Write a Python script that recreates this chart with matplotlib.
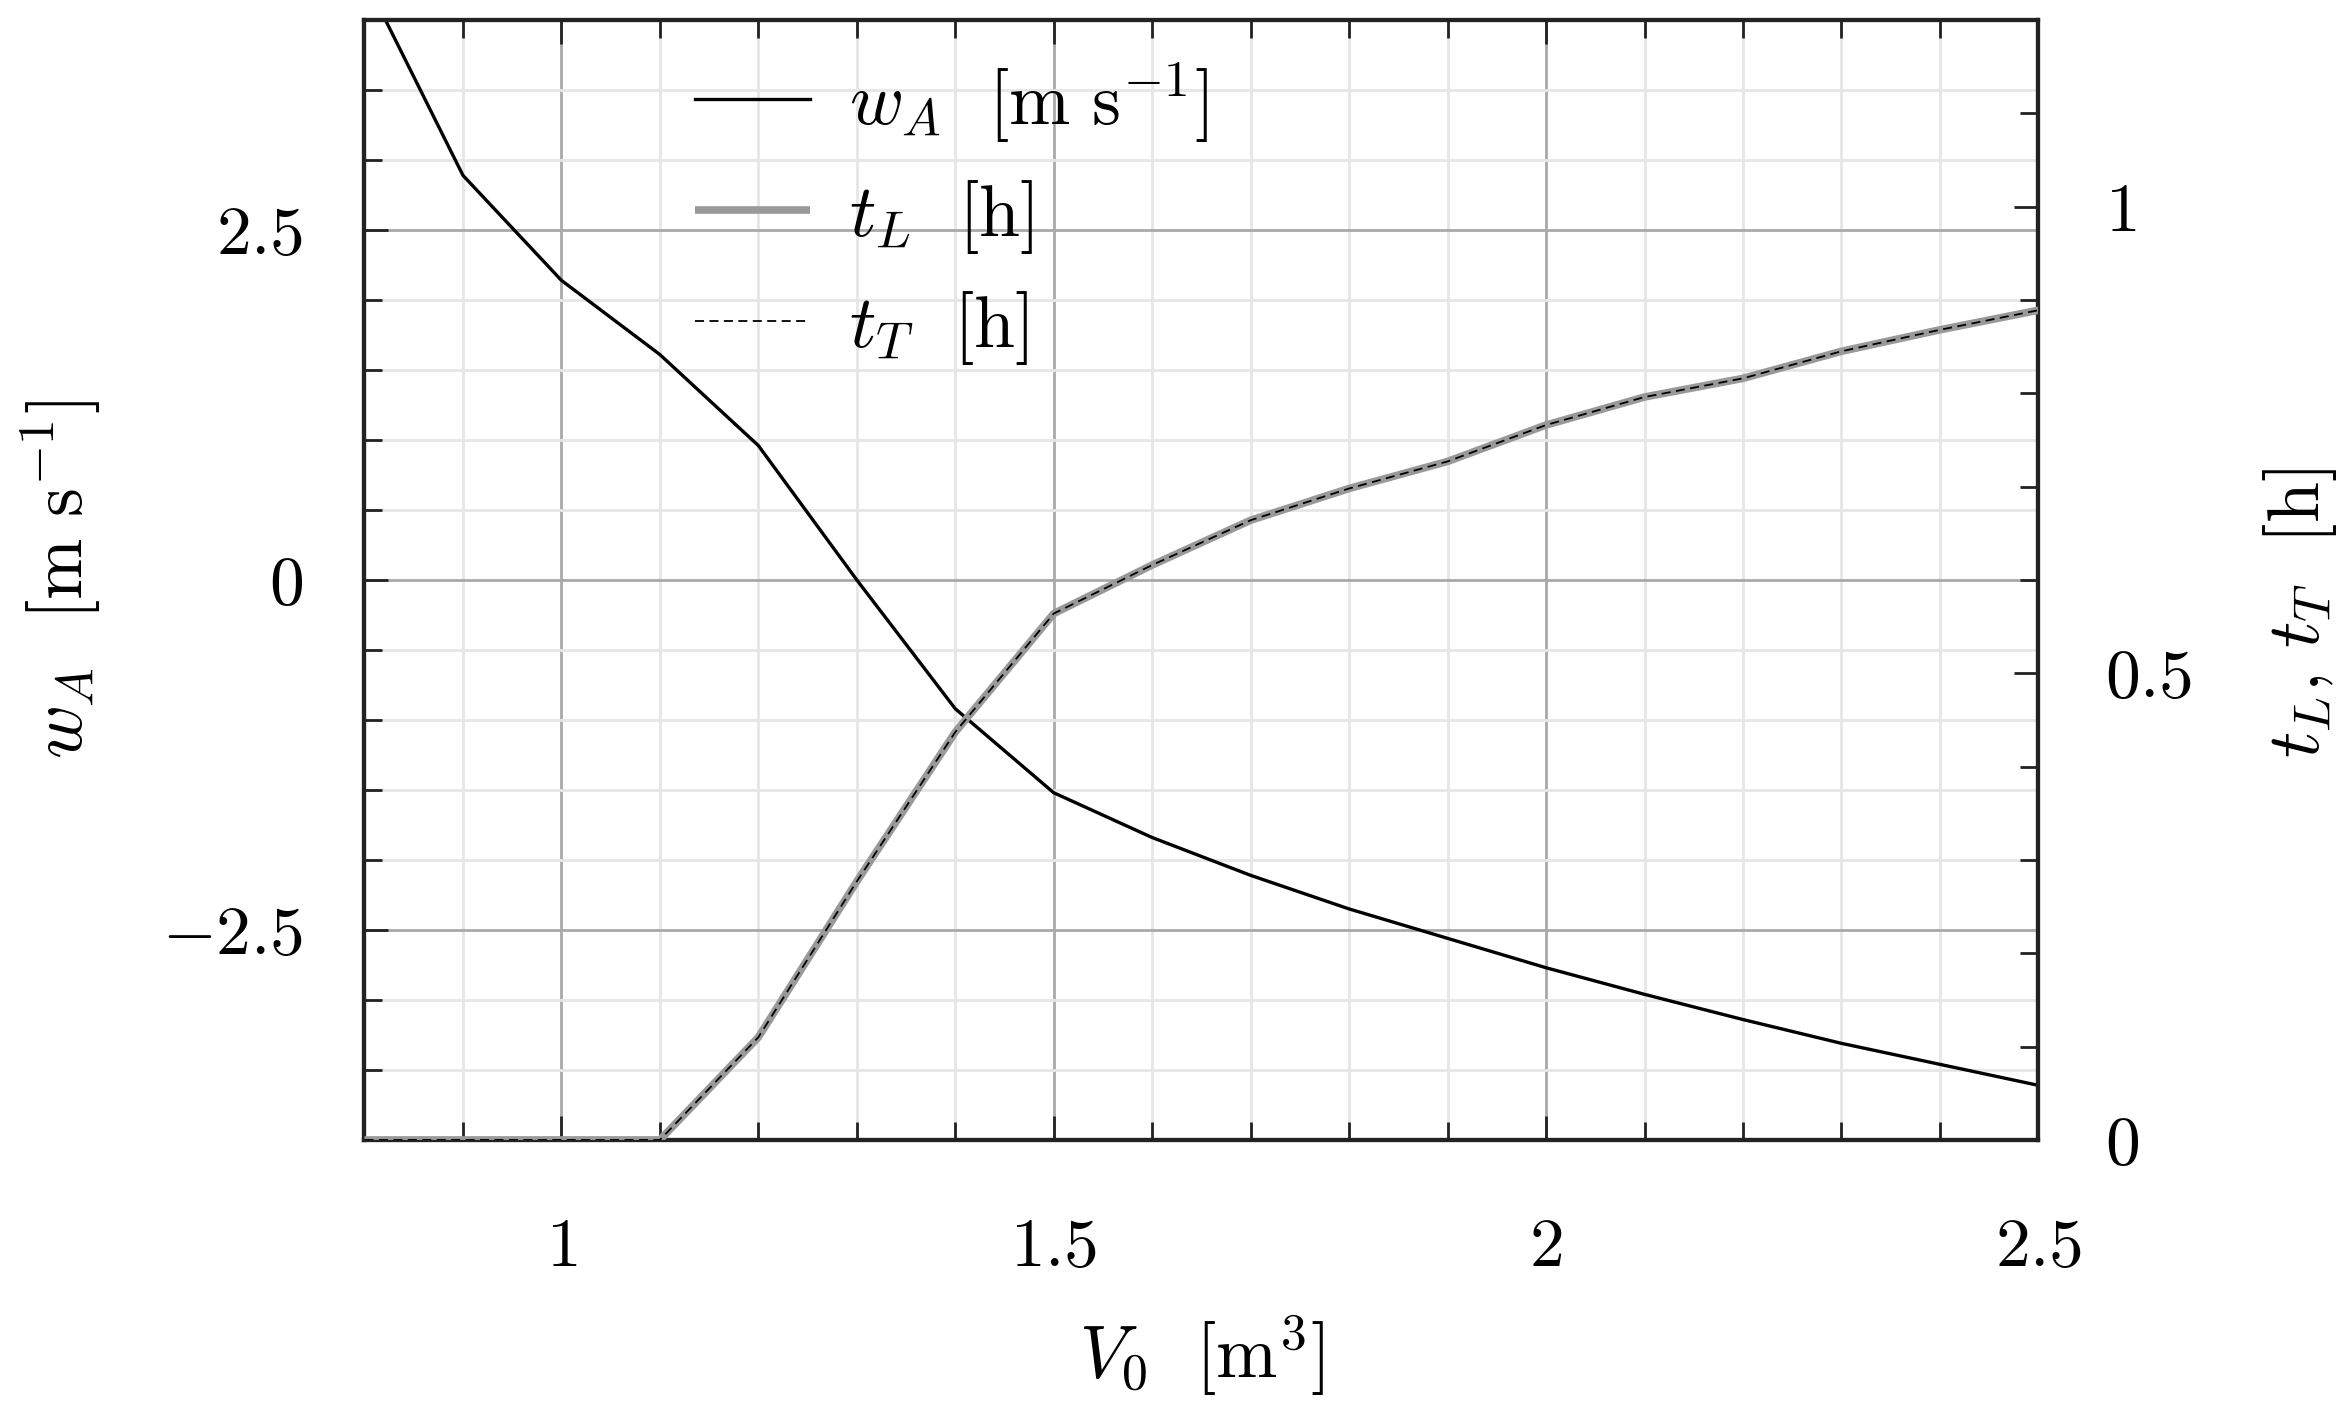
import numpy as np
import matplotlib
matplotlib.use("Agg")
import matplotlib.pyplot as plt
from matplotlib.ticker import MultipleLocator, FixedLocator, FuncFormatter

# data
V0 = [0.8, 0.9, 1.0, 1.1, 1.2, 1.3, 1.4, 1.5, 1.6, 1.7, 1.8,
      1.9, 2.0, 2.1, 2.2, 2.3, 2.4, 2.5]
w_A = [4.30, 2.89, 2.14, 1.61, 0.96, 0.0, -0.92, -1.52, -1.84, -2.11, -2.35,
       -2.56, -2.77, -2.96, -3.14, -3.31, -3.46, -3.61]
t_L = [0.0, 0.0, 0.0, 0.0, 0.110, 0.277, 0.437, 0.564, 0.616, 0.664, 0.698,
       0.727, 0.766, 0.796, 0.816, 0.845, 0.868, 0.889]
t_T = [0.0, 0.0, 0.0, 0.0, 0.110, 0.277, 0.437, 0.564, 0.616, 0.664, 0.698,
       0.727, 0.766, 0.796, 0.816, 0.845, 0.868, 0.889]

x_ticks = [1, 1.5, 2, 2.5]
left_ticks = [-2.5, 0, 2.5]
right_ticks = [0, 0.5, 1]

plt.rcParams['font.family'] = 'serif'
plt.rcParams['font.serif'] = ['cmr10']
plt.rcParams['mathtext.fontset'] = 'cm'
plt.rcParams['axes.formatter.use_mathtext'] = True

FS = 50
fmt = FuncFormatter(lambda v, p: '$%g$' % v)


def style_ticks(axis_obj):
    axis_obj.tick_params(which='major', direction='in', length=17, width=2,
                         color='#222222', labelsize=FS)
    axis_obj.tick_params(which='minor', direction='in', length=13, width=2,
                         color='#222222')


fig = plt.figure(figsize=(23.5, 14.26), dpi=100)
ax = fig.add_axes([0.1551, 0.2006, 0.8674 - 0.1551, 0.986 - 0.2006])
ax2 = ax.twinx()

# left axis: w_A
ax.plot(V0, w_A, color='black', linewidth=2.4, zorder=3)
ax.set_xlim(0.8, 2.5)
ax.set_ylim(-4, 4)
ax.xaxis.set_major_locator(FixedLocator(x_ticks))
ax.xaxis.set_minor_locator(MultipleLocator(0.1))
ax.yaxis.set_major_locator(FixedLocator(left_ticks))
ax.yaxis.set_minor_locator(MultipleLocator(0.5))
ax.xaxis.set_major_formatter(fmt)
ax.yaxis.set_major_formatter(fmt)
style_ticks(ax)
ax.tick_params(which='both', top=True, bottom=True, left=True, right=False)
ax.tick_params(axis='x', which='major', pad=56)
ax.tick_params(axis='y', which='major', pad=44)
ax.grid(True, which='major', color='#a9a9a9', linewidth=2.0)
ax.grid(True, which='minor', color='#e6e6e6', linewidth=2.0)
ax.set_axisbelow(True)

# right axis: t_L, t_T
lL, = ax2.plot(V0, t_L, color='#999999', linewidth=5.5, solid_capstyle='butt',
               label=r'$t_L\ \ [\mathrm{h}]$', zorder=3)
lT, = ax2.plot(V0, t_T, color='black', linewidth=1.3, linestyle=(0, (5, 3)),
               label=r'$t_T\ \ [\mathrm{h}]$', zorder=4)
ax2.set_ylim(0, 1.2)
ax2.yaxis.set_major_locator(FixedLocator(right_ticks))
ax2.yaxis.set_minor_locator(MultipleLocator(0.1))
ax2.yaxis.set_major_formatter(fmt)
style_ticks(ax2)
ax2.tick_params(axis='y', which='major', pad=48)

for a in (ax, ax2):
    for s in a.spines.values():
        s.set_linewidth(3)
        s.set_color('#222222')
ax.spines['top'].set_color('#3a3a3a')

# labels
ax.set_xlabel(r'$V_0\ \ [\mathrm{m}^3]$', fontsize=53, va='center')
ax.xaxis.set_label_coords(0.5, -0.193)
ax.set_ylabel(r'$w_A\ \ [\mathrm{m\ s}^{-1}]$', fontsize=53, va='center')
ax.yaxis.set_label_coords(-0.1816, 0.5)
ax2.set_ylabel(r'$t_L,\, t_T\ \ [\mathrm{h}]$', fontsize=53, va='center', rotation=90)
ax2.yaxis.set_label_coords(1.1565, 0.47)

lw, = ax.plot([], [], color='black', linewidth=2.4, label=r'$w_A\ \ [\mathrm{m\ s}^{-1}]$')
ax2.legend(handles=[lw, lL, lT], loc='upper left', bbox_to_anchor=(0.1977, 0.964),
           frameon=False, fontsize=53, borderpad=0, borderaxespad=0,
           handlelength=1.56, handletextpad=0.52, labelspacing=0.45)

fig.savefig('out.png', dpi=100)
